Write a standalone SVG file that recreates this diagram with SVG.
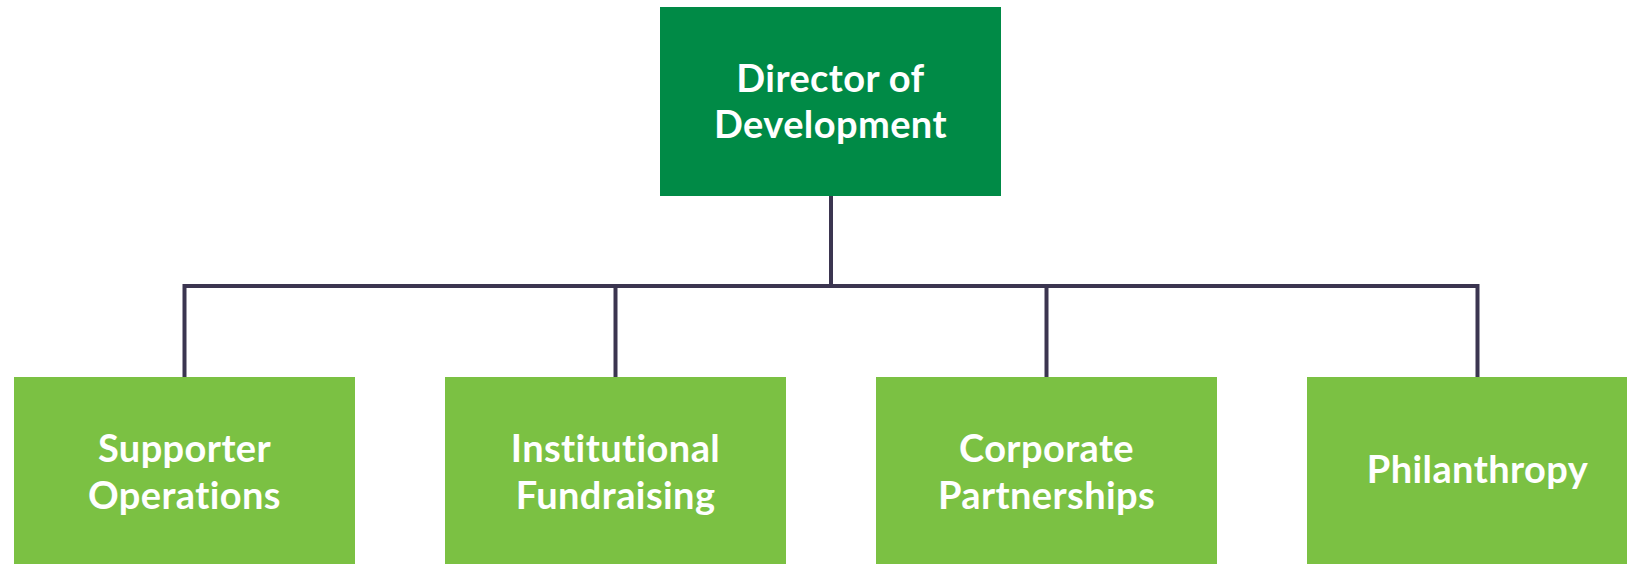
<svg xmlns="http://www.w3.org/2000/svg" width="1627" height="564" viewBox="0 0 1627 564">
  <style>
    .head { fill: #008a46; }
    .team { fill: #7bc143; }
    .label { font-family: Lato, "Open Sans", "Liberation Sans", sans-serif; font-weight: 700; font-size: 38px; letter-spacing: 0.4px; fill: #ffffff; text-anchor: middle; }
    .link { stroke: #3b3550; stroke-width: 4; fill: none; }
  </style>
  <rect width="1627" height="564" fill="#ffffff"/>

  <!-- reporting lines -->
  <g id="connectors">
    <path class="link" d="M831 196 V286"/>
    <path class="link" d="M184.5 377 V286 H1477.5 V377"/>
    <path class="link" d="M615.5 286 V377"/>
    <path class="link" d="M1046.5 286 V377"/>
  </g>

  <g id="director">
    <rect class="head" x="660" y="7" width="341" height="189"/>
    <text class="label" x="830.5" y="92">Director of</text>
    <text class="label" x="830.5" y="138">Development</text>
  </g>

  <g id="supporter-operations">
    <rect class="team" x="14" y="377" width="341" height="187"/>
    <text class="label" x="184.5" y="462">Supporter</text>
    <text class="label" x="184.5" y="509">Operations</text>
  </g>

  <g id="institutional-fundraising">
    <rect class="team" x="445" y="377" width="341" height="187"/>
    <text class="label" x="615.5" y="462">Institutional</text>
    <text class="label" x="615.5" y="509">Fundraising</text>
  </g>

  <g id="corporate-partnerships">
    <rect class="team" x="876" y="377" width="341" height="187"/>
    <text class="label" x="1046.5" y="462">Corporate</text>
    <text class="label" x="1046.5" y="509">Partnerships</text>
  </g>

  <g id="philanthropy">
    <rect class="team" x="1307" y="377" width="341" height="187"/>
    <text class="label" x="1477.5" y="483">Philanthropy</text>
  </g>
</svg>
